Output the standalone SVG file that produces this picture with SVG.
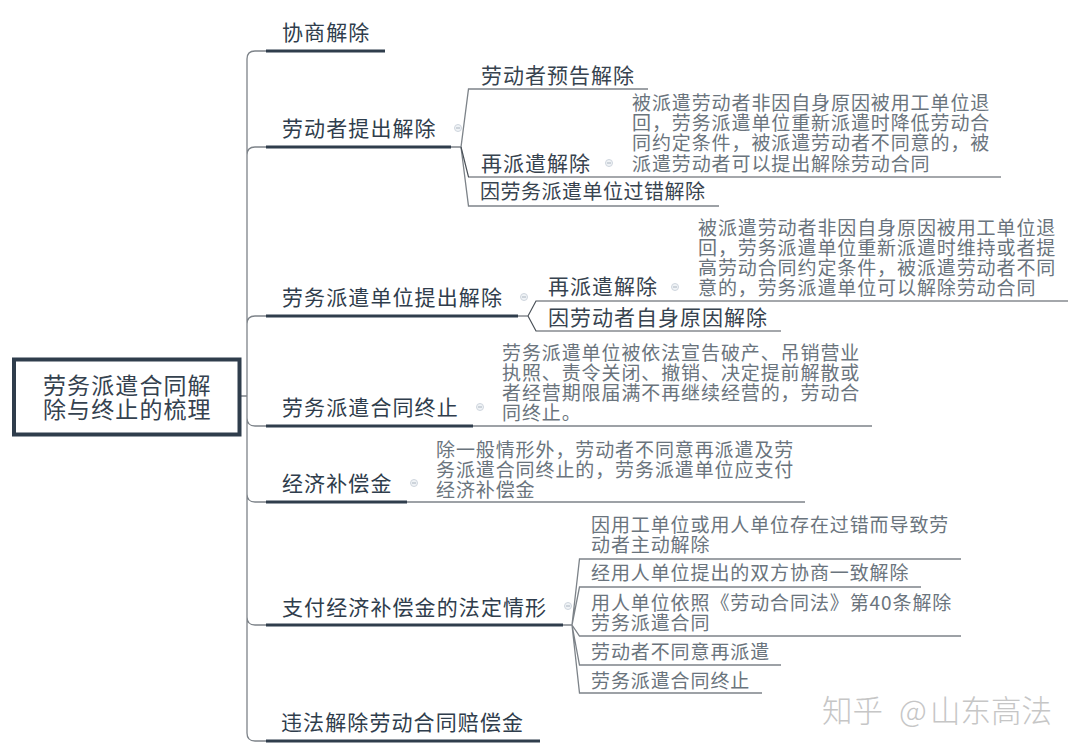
<svg xmlns="http://www.w3.org/2000/svg" width="1080" height="754" viewBox="0 0 1080 754">
<style>
text{font-family:"Noto Sans CJK SC","Noto Sans",sans-serif}
.r{font-size:23px;letter-spacing:1.100px;fill:#35424f}
.a{font-size:21px;letter-spacing:1.100px;fill:#2f3d4c}
.b{font-size:21px;letter-spacing:1px;fill:#37434f}
.c{font-size:20px;letter-spacing:.5px;fill:#37434f}
.d{font-size:19px;letter-spacing:.9px;fill:#6a747d}
.w{font-size:30.500px;fill:#c6c6c6;font-weight:300}
.thin{fill:none;stroke:#7d8389;stroke-width:1.3}
.dark{fill:none;stroke:#4a5158;stroke-width:1.2}
.thick{fill:none;stroke:#2f3d4c;stroke-width:3}
.ic{fill:#f0f3f6;stroke:#cfd6de;stroke-width:1}
.m{stroke:#aab4bf;stroke-width:1}
</style>
<defs><g id="toggle"><circle class="ic" r="3.500"/><path class="m" d="M-2 0H2"/></g></defs>
<rect width="1080" height="754" fill="#fff"/>
<g id="connectors">
<path class="thin" d="M241 396H247M266 51H255Q247 51 247 59V733Q247 741 255 741H266M266 147H255Q247 147 247 155M266 316H255Q247 316 247 324M247 418Q247 426 255 426H266M247 494Q247 502 255 502H266M247 617Q247 625 255 625H266"/>
<path class="thin" d="M451 147H461L468.500 89H648M461 147L468.500 206H719"/>
<path class="dark" d="M461 147L468.500 177H1001"/>
<path class="dark" d="M518 316H528L536 301H1068M528 316L536 331H781"/>
<path class="thin" d="M473 426H872M407 502H805"/>
<path class="thin" d="M562 625H572L579.500 559H961M572 625L579.500 587H921M572 625L579.500 636H961M572 625L579.500 665H781M572 625L579.500 693H762"/>
<path class="thick" d="M266 51H385M266 147H451M266 316H518M266 426H473M266 502H407M266 625H563M266 741H540"/>
</g>
<g id="root"><rect x="14" y="359.500" width="225.500" height="75" fill="#fff" stroke="#2f3d4c" stroke-width="4"/><text class="r" x="43" y="394">劳务派遣合同解</text><text class="r" x="43" y="418">除与终止的梳理</text></g>
<g id="n1"><text class="a" x="282" y="40">协商解除</text></g>
<g id="n2"><text class="a" x="282" y="136">劳动者提出解除</text><use href="#toggle" x="458" y="128"/></g>
<g id="n3"><text class="a" x="282" y="305">劳务派遣单位提出解除</text><use href="#toggle" x="524" y="297"/></g>
<g id="n4"><text class="a" x="282" y="415">劳务派遣合同终止</text><use href="#toggle" x="480" y="407"/></g>
<g id="n5"><text class="a" x="282" y="491">经济补偿金</text><use href="#toggle" x="414" y="483"/></g>
<g id="n6"><text class="a" x="282" y="615">支付经济补偿金的法定情形</text><use href="#toggle" x="568" y="606"/></g>
<g id="n7"><text class="a" x="281" y="730">违法解除劳动合同赔偿金</text></g>
<g id="n2a"><text class="b" x="481" y="83">劳动者预告解除</text></g>
<g id="n2b"><text class="b" x="481" y="171">再派遣解除</text><use href="#toggle" x="609" y="163"/></g>
<g id="n2c"><text class="c" x="480" y="199">因劳务派遣单位过错解除</text></g>
<g id="n3a"><text class="b" x="548" y="294">再派遣解除</text><use href="#toggle" x="675" y="287"/></g>
<g id="n3b"><text class="b" x="548" y="325">因劳动者自身原因解除</text></g>
<g id="d2b"><text class="d" x="632" y="110">被派遣劳动者非因自身原因被用工单位退</text><text class="d" x="632" y="130">回，劳务派遣单位重新派遣时降低劳动合</text><text class="d" x="632" y="150">同约定条件，被派遣劳动者不同意的，被</text><text class="d" x="632" y="171">派遣劳动者可以提出解除劳动合同</text></g>
<g id="d3a"><text class="d" x="698" y="235">被派遣劳动者非因自身原因被用工单位退</text><text class="d" x="698" y="255">回，劳务派遣单位重新派遣时维持或者提</text><text class="d" x="698" y="275">高劳动合同约定条件，被派遣劳动者不同</text><text class="d" x="698" y="295">意的，劳务派遣单位可以解除劳动合同</text></g>
<g id="d4"><text class="d" x="502" y="360">劳务派遣单位被依法宣告破产、吊销营业</text><text class="d" x="502" y="380">执照、责令关闭、撤销、决定提前解散或</text><text class="d" x="502" y="400">者经营期限届满不再继续经营的，劳动合</text><text class="d" x="502" y="420">同终止。</text></g>
<g id="d5"><text class="d" x="436" y="457">除一般情形外，劳动者不同意再派遣及劳</text><text class="d" x="436" y="477">务派遣合同终止的，劳务派遣单位应支付</text><text class="d" x="436" y="497">经济补偿金</text></g>
<g id="l1"><text class="d" x="591" y="532">因用工单位或用人单位存在过错而导致劳</text><text class="d" x="591" y="552">动者主动解除</text></g>
<g id="l2"><text class="d" x="591" y="580">经用人单位提出的双方协商一致解除</text></g>
<g id="l3"><text class="d" x="591" y="610">用人单位依照《劳动合同法》第40条解除</text><text class="d" x="591" y="630">劳务派遣合同</text></g>
<g id="l4"><text class="d" x="591" y="659">劳动者不同意再派遣</text></g>
<g id="l5"><text class="d" x="591" y="688">劳务派遣合同终止</text></g>
<g id="watermark"><text class="w" y="722"><tspan x="822">知乎</tspan> <tspan x="899">@</tspan><tspan x="930">山东高法</tspan></text></g>
</svg>
